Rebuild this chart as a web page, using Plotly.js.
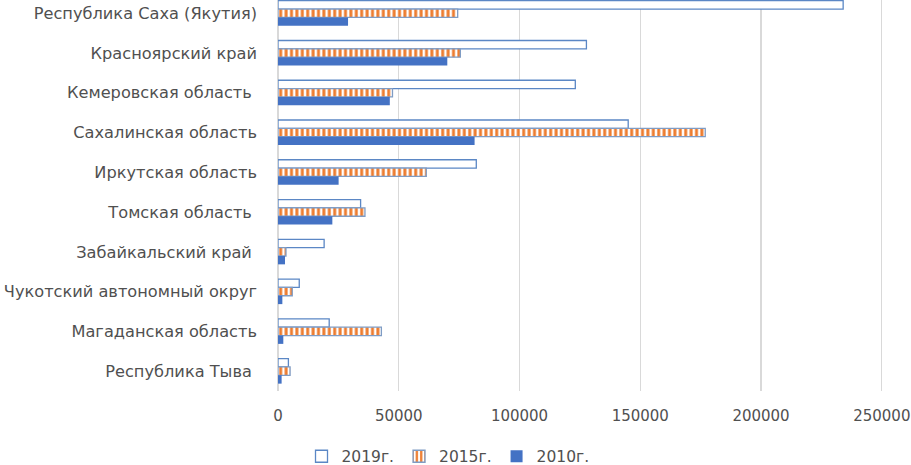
<!DOCTYPE html>
<html><head><meta charset="utf-8">
<script src="https://cdn.plot.ly/plotly-3.0.1.min.js"></script>
<style>html,body{margin:0;padding:0;background:#fff}#chart{width:911px;height:465px}</style>
</head><body><div id="chart"></div>
<script>
var regions = ["Республика Саха (Якутия)", "Красноярский край", "Кемеровская область\u00a0", "Сахалинская область", "Иркутская область", "Томская область\u00a0", "Забайкальский край\u00a0", "Чукотский автономный округ", "Магаданская область", "Республика Тыва\u00a0"];
var v2019 = [234000, 127700, 123100, 145000, 82100, 34200, 19100, 8800, 21200, 4300];
var v2015 = [74400, 75500, 47400, 176900, 61400, 36000, 3300, 5900, 42800, 5000];
var v2010 = [29000, 70100, 46300, 81400, 25100, 22500, 2900, 1800, 2200, 1500];
var seriesNames = ["2019г.", "2015г.", "2010г."];
var xTicks = [0, 50000, 100000, 150000, 200000, 250000];

var font = "DejaVu Sans, sans-serif";
var txt = '#505050';
var traces = [
  {type:'bar', orientation:'h', name:seriesNames[0], y:regions, x:v2019,
   marker:{color:'#ffffff', line:{color:'#5b87c5', width:1.3}}},
  {type:'bar', orientation:'h', name:seriesNames[1], y:regions, x:v2015,
   marker:{color:'#ffffff', line:{color:'#7f9cc4', width:1.3},
     pattern:{shape:'|', fgcolor:'#ed7d31', bgcolor:'#ffffff', size:5.4, solidity:0.55}}},
  {type:'bar', orientation:'h', name:seriesNames[2], y:regions, x:v2010,
   marker:{color:'#4472c4', line:{color:'#4472c4', width:0}}}
];
var layout = {
  width:911, height:465,
  margin:{l:278, r:28, t:0, b:74, autoexpand:false},
  paper_bgcolor:'#fff', plot_bgcolor:'#fff',
  barmode:'group', bargap:0.37, bargroupgap:0,
  font:{family:font, size:15, color:txt},
  xaxis:{range:[0,250500], tickmode:'array', tickvals:xTicks, ticktext:xTicks.map(String),
    showgrid:true, gridcolor:'#d9d9d9', gridwidth:1.3,
    zeroline:true, zerolinecolor:'#d9d9d9', zerolinewidth:1.3, showline:false,
    tickfont:{family:font, size:15, color:txt}, ticks:'', ticklabelstandoff:14,
    ticklabeloverflow:'allow', fixedrange:true},
  yaxis:{type:'category', range:[9.5, -0.333], showgrid:false, zeroline:false, showline:false,
    ticks:'', tickfont:{family:font, size:16.2, color:txt}, ticklabelstandoff:20},
  showlegend:true,
  legend:{orientation:'h', x:0.281, xanchor:'center', yref:'paper', y:-0.168, yanchor:'middle',
    font:{family:font, size:15.5, color:txt}, traceorder:'normal', itemwidth:30},
  hovermode:false
};
Plotly.newPlot('chart', traces, layout, {displayModeBar:false, staticPlot:true});
</script></body></html>
